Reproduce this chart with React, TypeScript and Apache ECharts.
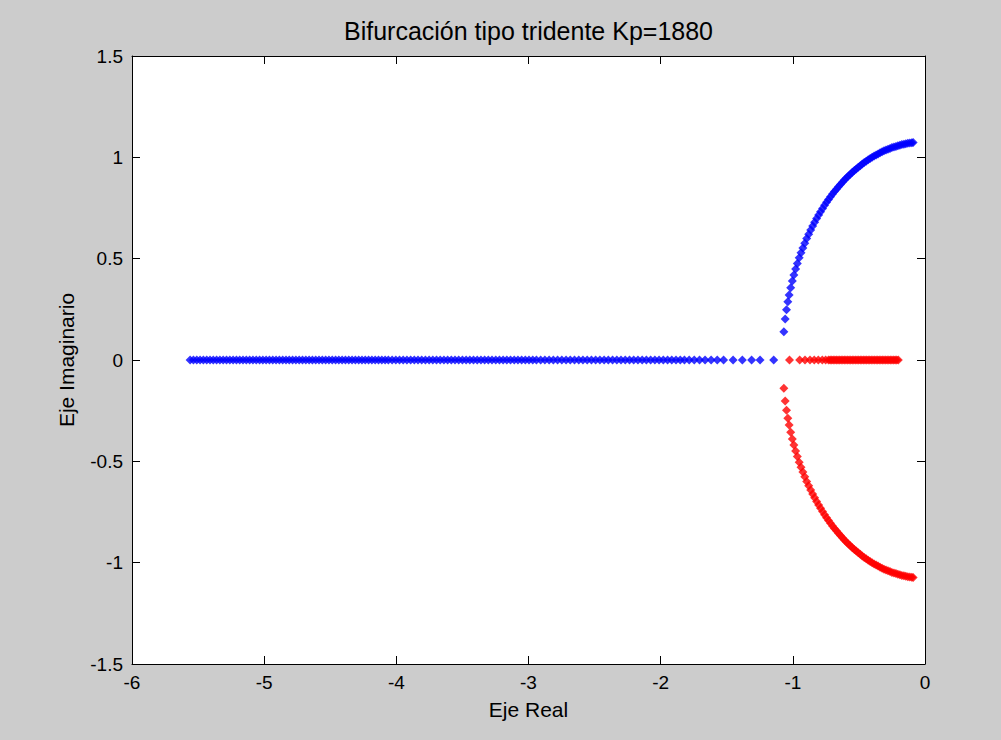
import React, { useEffect, useRef } from "react";
import * as echarts from "echarts";

const titleText = "Bifurcación tipo tridente Kp=1880";
const xAxisName = "Eje Real";
const yAxisName = "Eje Imaginario";

// Blue root on the real axis (imaginary part 0)
const blueRealX = [
  -5.56, -5.535, -5.51, -5.485, -5.46, -5.435, -5.41, -5.385, -5.36, -5.335, -5.31, -5.285, -5.26, -5.235, -5.21,
  -5.185, -5.16, -5.135, -5.11, -5.085, -5.06, -5.035, -5.01, -4.985, -4.96, -4.935, -4.91, -4.885, -4.86, -4.835,
  -4.81, -4.785, -4.76, -4.735, -4.71, -4.685, -4.66, -4.635, -4.61, -4.585, -4.56, -4.535, -4.51, -4.485, -4.46,
  -4.435, -4.41, -4.385, -4.36, -4.335, -4.31, -4.285, -4.26, -4.235, -4.21, -4.185, -4.16, -4.135, -4.11, -4.085,
  -4.06, -4.032, -4.004, -3.976, -3.948, -3.92, -3.892, -3.864, -3.836, -3.808, -3.78, -3.752, -3.724, -3.696,
  -3.668, -3.64, -3.612, -3.584, -3.556, -3.528, -3.5, -3.472, -3.444, -3.416, -3.388, -3.36, -3.332, -3.304,
  -3.276, -3.248, -3.22, -3.192, -3.164, -3.136, -3.108, -3.08, -3.052, -3.024, -2.996, -2.968, -2.94, -2.908,
  -2.876, -2.844, -2.812, -2.78, -2.748, -2.716, -2.684, -2.652, -2.62, -2.588, -2.556, -2.524, -2.492, -2.46,
  -2.428, -2.396, -2.364, -2.332, -2.3, -2.268, -2.236, -2.204, -2.172, -2.14, -2.108, -2.076, -2.044, -2.012,
  -1.98, -1.948, -1.916, -1.884, -1.852, -1.82, -1.784, -1.746, -1.706, -1.664, -1.618, -1.572, -1.524, -1.452,
  -1.382, -1.312, -1.248, -1.145,
];

// Red root on the real axis (imaginary part 0)
const redRealX = [
  -0.202, -0.214, -0.226, -0.238, -0.25, -0.262, -0.274, -0.286, -0.298, -0.31, -0.322, -0.334, -0.346, -0.358,
  -0.37, -0.382, -0.394, -0.406, -0.418, -0.43, -0.442, -0.454, -0.466, -0.478, -0.49, -0.502, -0.514, -0.526,
  -0.538, -0.55, -0.562, -0.574, -0.586, -0.598, -0.61, -0.622, -0.634, -0.646, -0.658, -0.67, -0.682, -0.694,
  -0.706, -0.718, -0.73, -0.752, -0.777, -0.807, -0.838, -0.87, -0.908, -0.948, -1.025,
];

// Complex pair after the bifurcation: real parts, upper (blue) and lower (red) imaginary parts
const arcX = [
  -1.068, -1.058, -1.048, -1.038, -1.028, -1.016, -1.004, -0.992, -0.979, -0.966, -0.952, -0.938, -0.924, -0.91,
  -0.895, -0.88, -0.865, -0.85, -0.835, -0.82, -0.805, -0.79, -0.775, -0.76, -0.745, -0.73, -0.715, -0.7, -0.685,
  -0.67, -0.655, -0.64, -0.625, -0.61, -0.595, -0.58, -0.565, -0.55, -0.535, -0.52, -0.505, -0.49, -0.475, -0.46,
  -0.445, -0.43, -0.415, -0.4, -0.385, -0.37, -0.355, -0.34, -0.325, -0.31, -0.295, -0.28, -0.265, -0.25, -0.235,
  -0.22, -0.205, -0.19, -0.175, -0.16, -0.145, -0.13, -0.115, -0.1, -0.09,
];
const upperArcY = [
  0.139, 0.202, 0.248, 0.287, 0.321, 0.357, 0.39, 0.42, 0.449, 0.476, 0.504, 0.529, 0.553, 0.576, 0.599, 0.621,
  0.642, 0.661, 0.68, 0.698, 0.716, 0.732, 0.748, 0.763, 0.778, 0.792, 0.806, 0.819, 0.831, 0.843, 0.855, 0.866,
  0.877, 0.888, 0.898, 0.908, 0.917, 0.926, 0.935, 0.943, 0.951, 0.959, 0.967, 0.974, 0.981, 0.988, 0.994, 1.0,
  1.006, 1.012, 1.017, 1.022, 1.027, 1.032, 1.036, 1.04, 1.044, 1.048, 1.051, 1.054, 1.057, 1.06, 1.063, 1.065,
  1.067, 1.069, 1.071, 1.072, 1.073,
];
const lowerArcY = [
  -0.139, -0.202, -0.248, -0.287, -0.321, -0.357, -0.39, -0.42, -0.449, -0.476, -0.504, -0.529, -0.553, -0.576,
  -0.599, -0.621, -0.642, -0.661, -0.68, -0.698, -0.716, -0.732, -0.748, -0.763, -0.778, -0.792, -0.806, -0.819,
  -0.831, -0.843, -0.855, -0.866, -0.877, -0.888, -0.898, -0.908, -0.917, -0.926, -0.935, -0.943, -0.951, -0.959,
  -0.967, -0.974, -0.981, -0.988, -0.994, -1.0, -1.006, -1.012, -1.017, -1.022, -1.027, -1.032, -1.036, -1.04,
  -1.044, -1.048, -1.051, -1.054, -1.057, -1.06, -1.063, -1.065, -1.067, -1.069, -1.071, -1.072, -1.073,
];

const FONT = "'Liberation Sans', Arial, sans-serif";

export default function App() {
  const ref = useRef<HTMLDivElement>(null);
  useEffect(() => {
    if (!ref.current) return;
    const chart = echarts.init(ref.current, undefined, { renderer: "svg" });
    const blueData = [
      ...blueRealX.map((x) => [x, 0]),
      ...arcX.map((x, i) => [x, upperArcY[i]]),
    ];
    const redData = [
      ...redRealX.map((x) => [x, 0]),
      ...arcX.map((x, i) => [x, lowerArcY[i]]),
    ];
    const gridL = 132, gridT = 56, gridW = 793, gridH = 608;
    const axisCommon = {
      axisLine: { show: true, onZero: false, lineStyle: { color: "#000", width: 1 } },
      axisTick: { show: true, inside: true, length: 8, lineStyle: { color: "#000", width: 1 } },
      splitLine: { show: false },
    };
    chart.setOption({
      animation: false,
      backgroundColor: "#cccccc",
      textStyle: { fontFamily: FONT },
      grid: {
        left: gridL, top: gridT, width: gridW, height: gridH,
        show: true, backgroundColor: "#ffffff", borderWidth: 0,
      },
      xAxis: [
        {
          type: "value", min: -6, max: 0, interval: 1, position: "bottom", ...axisCommon,
          axisLabel: { show: true, color: "#000", fontSize: 19, margin: 9, fontFamily: FONT },
        },
        {
          type: "value", min: -6, max: 0, interval: 1, position: "top", ...axisCommon,
          axisLabel: { show: false },
        },
      ],
      yAxis: [
        {
          type: "value", min: -1.5, max: 1.5, interval: 0.5, position: "left", ...axisCommon,
          axisLabel: { show: true, color: "#000", fontSize: 19, margin: 9, fontFamily: FONT },
        },
        {
          type: "value", min: -1.5, max: 1.5, interval: 0.5, position: "right", ...axisCommon,
          axisLabel: { show: false },
        },
      ],
      graphic: [
        {
          type: "text", x: gridL + gridW / 2, y: 31,
          style: { text: titleText, fill: "#000", font: `25px ${FONT}`, textAlign: "center", textVerticalAlign: "middle" },
        },
        {
          type: "text", x: gridL + gridW / 2, y: 709,
          style: { text: xAxisName, fill: "#000", font: `21px ${FONT}`, textAlign: "center", textVerticalAlign: "middle" },
        },
        {
          type: "text", x: 66, y: 360, rotation: Math.PI / 2,
          style: { text: yAxisName, fill: "#000", font: `21px ${FONT}`, textAlign: "center", textVerticalAlign: "middle" },
        },
      ],
      series: [
        {
          type: "scatter", name: "blue", data: blueData, symbol: "diamond", symbolSize: 9,
          itemStyle: { color: "#0000ff" }, xAxisIndex: 0, yAxisIndex: 0, silent: true,
        },
        {
          type: "scatter", name: "red", data: redData, symbol: "diamond", symbolSize: 9,
          itemStyle: { color: "#ff0000" }, xAxisIndex: 0, yAxisIndex: 0, silent: true,
        },
      ],
    });
    return () => chart.dispose();
  }, []);
  return <div ref={ref} style={{ position: "absolute", left: 0, top: 0, width: 1001, height: 740 }} />;
}
